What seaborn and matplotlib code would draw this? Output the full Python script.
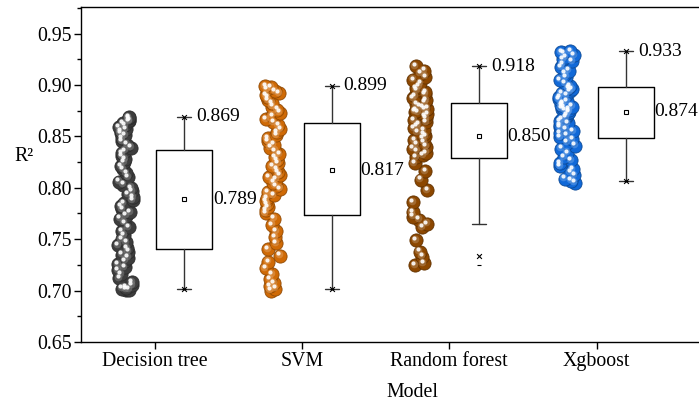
import numpy as np
import pandas as pd
import matplotlib
matplotlib.use("Agg")
import matplotlib.pyplot as plt
from matplotlib.transforms import offset_copy
import seaborn as sns

models = ["Decision tree", "SVM", "Random forest", "Xgboost"]
colors = ["#3d3d3d", "#cf6a06", "#8c4700", "#1169d8"]

dt_vals = [0.701, 0.701, 0.702, 0.703, 0.705, 0.708, 0.712, 0.716, 0.720, 0.723, 0.726, 0.729, 0.732, 0.735, 0.738,
           0.741, 0.744, 0.747, 0.750, 0.754, 0.758, 0.762, 0.766, 0.770, 0.773, 0.776, 0.779, 0.782, 0.785, 0.788,
           0.791, 0.794, 0.797, 0.800, 0.803, 0.806, 0.810, 0.814, 0.818, 0.821, 0.825, 0.828, 0.831, 0.834, 0.836,
           0.839, 0.842, 0.845, 0.848, 0.851, 0.853, 0.855, 0.857, 0.859, 0.861, 0.863, 0.865, 0.866, 0.868, 0.869]
svm_vals = [0.700, 0.702, 0.704, 0.707, 0.711, 0.716, 0.722, 0.728, 0.734, 0.740, 0.746, 0.752, 0.758, 0.764, 0.770,
            0.775, 0.778, 0.781, 0.784, 0.787, 0.790, 0.793, 0.796, 0.799, 0.802, 0.805, 0.808, 0.810, 0.812, 0.815,
            0.818, 0.821, 0.824, 0.827, 0.830, 0.833, 0.836, 0.839, 0.842, 0.845, 0.848, 0.851, 0.854, 0.857, 0.861,
            0.864, 0.867, 0.870, 0.873, 0.876, 0.879, 0.882, 0.885, 0.888, 0.890, 0.892, 0.894, 0.896, 0.898, 0.899]
rf_vals = [0.725, 0.727, 0.733, 0.738, 0.749, 0.762, 0.765, 0.769, 0.772, 0.776, 0.786, 0.798, 0.808, 0.816, 0.824,
           0.830, 0.832, 0.834, 0.836, 0.838, 0.840, 0.842, 0.844, 0.846, 0.848, 0.850, 0.852, 0.854, 0.856, 0.858,
           0.860, 0.862, 0.864, 0.866, 0.868, 0.870, 0.872, 0.873, 0.874, 0.875, 0.876, 0.877, 0.878, 0.879, 0.881,
           0.883, 0.885, 0.887, 0.889, 0.891, 0.893, 0.895, 0.897, 0.899, 0.902, 0.905, 0.908, 0.911, 0.914, 0.918]
xgb_vals = [0.805, 0.807, 0.809, 0.812, 0.815, 0.818, 0.821, 0.824, 0.827, 0.830, 0.834, 0.838, 0.841, 0.844, 0.847,
            0.849, 0.851, 0.853, 0.855, 0.857, 0.859, 0.861, 0.863, 0.865, 0.867, 0.869, 0.871, 0.873, 0.874, 0.875,
            0.876, 0.877, 0.878, 0.879, 0.880, 0.881, 0.882, 0.884, 0.886, 0.888, 0.890, 0.892, 0.894, 0.896, 0.897,
            0.899, 0.902, 0.905, 0.908, 0.911, 0.914, 0.917, 0.920, 0.923, 0.925, 0.927, 0.929, 0.931, 0.932, 0.933]

# box statistics
q1 = [0.7405, 0.7735, 0.8293, 0.8482]
q3 = [0.8368, 0.8627, 0.8822, 0.8977]
whis_lo = [0.7013, 0.7016, 0.7645, 0.8066]
whis_hi = [0.8690, 0.8990, 0.9180, 0.9330]
means = [0.789, 0.817, 0.850, 0.874]
p01 = [0.7013, 0.7016, 0.7337, 0.8066]
p99 = [0.8690, 0.8990, 0.9180, 0.9330]
vmin = [0.7013, 0.7016, 0.7249, 0.8066]
max_labels = [0.869, 0.899, 0.918, 0.933]
mean_labels = [0.789, 0.817, 0.850, 0.874]

sns.set_theme(style="ticks")
plt.rcParams["font.family"] = ["Liberation Serif", "DejaVu Serif"]

fig = plt.figure(figsize=(6.99, 4.05), dpi=100)
ax = fig.add_axes([81.3 / 699, 63 / 405, 662.4 / 699, 334.7 / 405])

all_vals = [dt_vals, svm_vals, rf_vals, xgb_vals]
df = pd.DataFrame({
    "model": np.repeat(models, [len(v) for v in all_vals]),
    "R2": np.concatenate(all_vals),
})
df["pos"] = df["model"].map({m: i - 0.2 for i, m in enumerate(models)})

np.random.seed(3)
hl_big = offset_copy(ax.transData, fig=fig, x=-1.2, y=1.3, units="dots")
hl_small = offset_copy(ax.transData, fig=fig, x=-1.8, y=2.2, units="dots")
for i, m in enumerate(models):
    sub = df[df["model"] == m]
    n_before = len(ax.collections)
    base = np.array(matplotlib.colors.to_rgb(colors[i]))
    sns.stripplot(data=sub, x="pos", y="R2", native_scale=True, jitter=0.055,
                  color=colors[i], size=9.5, linewidth=0.6,
                  edgecolor=tuple(base * 0.7), ax=ax, zorder=2)
    coll = ax.collections[n_before]
    coll.set_edgecolor(tuple(base * 0.7))
    offs = coll.get_offsets()
    light = tuple(base + (1 - base) * 0.35)
    ax.scatter(offs[:, 0], offs[:, 1], s=30, color=light, alpha=0.55,
               linewidths=0, transform=hl_big, zorder=2.1)
    ax.scatter(offs[:, 0], offs[:, 1], s=9, color="white", alpha=0.9,
               linewidths=0, transform=hl_small, zorder=2.2)

stats = []
for i in range(len(models)):
    stats.append(dict(med=np.nan, q1=q1[i], q3=q3[i], whislo=whis_lo[i], whishi=whis_hi[i],
                      mean=means[i], fliers=[]))
box_pos = [i + 0.2 for i in range(len(models))]
ax.bxp(stats, positions=box_pos, widths=0.38, showmeans=True, showfliers=False,
       patch_artist=False,
       boxprops=dict(color="black", linewidth=1.0),
       whiskerprops=dict(color="#333333", linewidth=1.0),
       capprops=dict(color="#333333", linewidth=1.0),
       capwidths=0.095,
       medianprops=dict(linewidth=0),
       meanprops=dict(marker="s", markersize=3.5, markerfacecolor="white",
                      markeredgecolor="black", markeredgewidth=0.8),
       manage_ticks=False)
ax.scatter(box_pos, p01, marker="x", s=12, color="black", linewidths=0.8, zorder=4)
ax.scatter(box_pos, p99, marker="x", s=12, color="black", linewidths=0.8, zorder=4)
ax.scatter(box_pos, vmin, marker="_", s=12, color="black", linewidths=0.8, zorder=4)

for i in range(len(models)):
    ax.text(box_pos[i] + 0.082, p99[i], f"{max_labels[i]:.3f}", ha="left", va="center",
            fontsize=14, color="black")
    ax.text(box_pos[i] + 0.19 + 0.004, means[i], f"{mean_labels[i]:.3f}", ha="left", va="center",
            fontsize=14, color="black")

ax.set_xlim(-0.5, 4.0)
ax.set_ylim(0.65, 0.9755)
ax.set_xticks(range(len(models)))
ax.set_xticklabels(models, fontsize=14.3)
ax.set_yticks(np.arange(0.65, 0.951, 0.05))
ax.set_yticklabels([f"{v:.2f}" for v in np.arange(0.65, 0.951, 0.05)], fontsize=14.3)
ax.set_yticks(np.arange(0.675, 0.976, 0.05), minor=True)
ax.tick_params(axis="both", which="major", direction="out", length=5, width=1, color="black",
               labelcolor="black", pad=2)
ax.tick_params(axis="y", which="minor", direction="out", length=3, width=1, color="black")
ax.tick_params(axis="x", which="minor", bottom=False)
for side in ["left", "bottom", "top", "right"]:
    ax.spines[side].set_color("black")
    ax.spines[side].set_linewidth(1.0)
    ax.spines[side].set_visible(True)

ax.set_xlabel("Model", fontsize=14.3, color="black", labelpad=9)
ax.set_ylabel("R²", fontsize=14.3, color="black", rotation=0, va="center", ha="center")
ax.yaxis.set_label_coords(-0.086, 0.553)
ax.grid(False)

fig.savefig("out.png", dpi=100)
